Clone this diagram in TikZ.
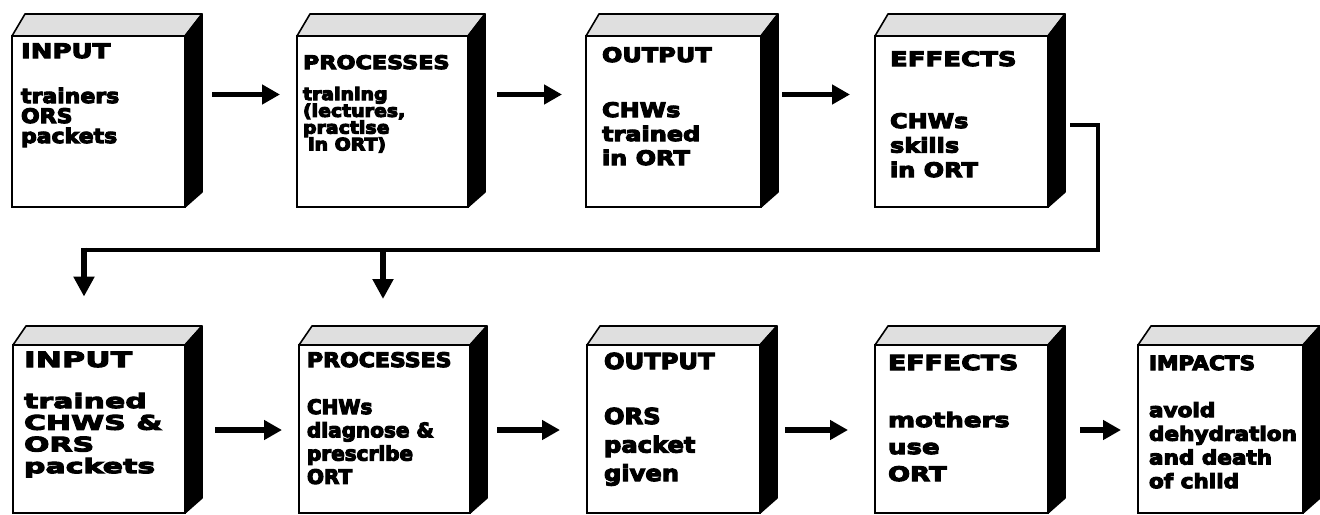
\documentclass[tikz,border=0pt]{standalone}
\usepackage{fontspec}
% one bold sans at several widths
\newfontfamily\fsA{DejaVu Sans}[UprightFont={* Bold}, FakeStretch=1.0]
\newfontfamily\fsB{DejaVu Sans}[UprightFont={* Bold}, FakeStretch=1.1]
\newfontfamily\fsC{DejaVu Sans}[UprightFont={* Bold}, FakeStretch=1.2]
\newfontfamily\fsD{DejaVu Sans}[UprightFont={* Bold}, FakeStretch=1.3]
\newfontfamily\fsE{DejaVu Sans}[UprightFont={* Bold}, FakeStretch=1.5]
% heavier letters: fill and outline the glyphs
\newcommand{\heavy}[1]{\special{pdf:literal direct 2 Tr 0.55 w}#1\special{pdf:literal direct 0 Tr}}
\usetikzlibrary{arrows.meta,calc}
\tikzset{
  front/.style={draw, line width=0.8pt, fill=white, rectangle, inner sep=0pt, outer sep=0pt},
  topface/.style={draw, line width=0.8pt, fill=gray!25, line join=round},
  sideface/.style={draw, line width=0.8pt, fill=black, line join=round},
  lbl/.style={inner sep=0pt, outer sep=0pt, anchor=base west},
  flow/.style={line width=2.8pt, -{Triangle[length=9pt,width=9.5pt]}},
  feed/.style={line width=2.4pt, line join=miter},
  drop/.style={line width=2.6pt, -{Triangle[length=10pt,width=10pt]}},
}
\newcommand{\sz}[1]{\fontsize{#1}{#1}\selectfont}
% a block: front face node, shaded top face, black side face
% args: name, left, top, right, bottom, depth of the top face
\newcommand{\tdbox}[6]{%
  \node[front, anchor=north west, minimum width={(#4-#2)*0.5pt}, minimum height={(#5-#3)*0.5pt}] (#1) at (#2,#3) {};
  \filldraw[topface] (#1.north west) -- ++(13,-#6) -- ($(#1.north east)+(17,-#6)$) -- (#1.north east) -- cycle;
  \filldraw[sideface] (#1.north east) -- ++(17,-#6) -- ($(#1.south east)+(17,-15)$) -- (#1.south east) -- cycle;
}
% a column of text lines: name, font, x, first baseline, line step, lines
\newcommand{\textlines}[6]{%
  \foreach \ln [count=\i] in {#6} {
    \node[lbl, font=#2] (#1-\i) at (#3, {#4+(\i-1)*#5}) {\heavy{\ln}};
  }%
}
\begin{document}
\begin{tikzpicture}[x=0.5pt,y=-0.5pt]
\useasboundingbox (0,0) rectangle (1320,514);

% ---------- first chain: training of the health workers ----------
\tdbox{in1}{12}{36}{185}{207}{22}
\tdbox{proc1}{297}{36}{468}{207}{22}
\tdbox{out1}{586}{36}{761}{207}{22}
\tdbox{eff1}{875}{36}{1048}{207}{22}

\textlines{in1h}{\fsD\sz{10}}{21}{58}{0}{INPUT}
\textlines{in1b}{\fsB\sz{10}}{21}{103}{20}{trainers,ORS,packets}

\textlines{proc1h}{\fsC\sz{9.3}}{303}{69}{0}{PROCESSES}
\textlines{proc1b}{\fsB\sz{8.6}}{303}{100}{16.8}{training,{(lectures,},practise,\hspace{0.3em}in ORT)}

\textlines{out1h}{\fsC\sz{10}}{602}{62}{0}{OUTPUT}
\textlines{out1b}{\fsC\sz{10}}{602}{117}{24}{CHWs,trained,in ORT}

\textlines{eff1h}{\fsD\sz{10}}{890}{66}{0}{EFFECTS}
\textlines{eff1b}{\fsC\sz{10}}{890}{128}{24.5}{CHWs,skills,in ORT}

\draw[flow] ($(in1.east)+(27,-27)$) -- ($(proc1.west)+(-17,-27)$);
\draw[flow] ($(proc1.east)+(29,-27)$) -- ($(out1.west)+(-24,-27)$);
\draw[flow] ($(out1.east)+(21,-27)$) -- ($(eff1.west)+(-25,-27)$);

% ---------- second chain: health workers treating children ----------
\tdbox{in2}{13}{345}{185}{513}{19}
\tdbox{proc2}{299}{345}{470}{513}{19}
\tdbox{out2}{587}{345}{760}{513}{19}
\tdbox{eff2}{875}{345}{1048}{513}{19}
\tdbox{imp2}{1138}{345}{1303}{513}{19}

\textlines{in2h}{\fsE\sz{10.5}}{24}{367}{0}{INPUT}
\textlines{in2b}{\fsE\sz{10}}{24}{408}{21.7}{trained,CHWS \&,ORS,packets}

\textlines{proc2h}{\fsB\sz{10}}{307}{367}{0}{PROCESSES}
\textlines{proc2b}{\fsA\sz{10}}{307}{414}{23.3}{CHWs,diagnose \&,prescribe,ORT}

\textlines{out2h}{\fsB\sz{11}}{604}{369}{0}{OUTPUT}
\textlines{out2b}{\fsB\sz{11}}{604}{424}{28.5}{ORS,packet,given}

\textlines{eff2h}{\fsD\sz{10.3}}{888}{370}{0}{EFFECTS}
\textlines{eff2b}{\fsD\sz{10}}{888}{427}{27}{mothers,use,ORT}

\textlines{imp2h}{\fsB\sz{9.8}}{1149}{370}{0}{IMPACTS}
\textlines{imp2b}{\fsB\sz{9.8}}{1149}{417}{23.7}{avoid,dehydration,and death,of child}

\draw[flow] ($(in2.east)+(30,1)$) -- ($(proc2.west)+(-17,1)$);
\draw[flow] ($(proc2.east)+(27,1)$) -- ($(out2.west)+(-27,1)$);
\draw[flow] ($(out2.east)+(25,1)$) -- ($(eff2.west)+(-27,1)$);
\draw[flow] ($(eff2.east)+(32,1)$) -- ($(imp2.west)+(-17,1)$);

% ---------- link from the first chain down to the second ----------
\coordinate (turn) at (1098,250);
\coordinate (dropA) at (84,250);
\coordinate (dropB) at (383,250);
\draw[feed] ($(eff1.east)+(22,3.5)$) -| (turn) -- ([xshift=-1.2pt]dropA);
\draw[drop] ([yshift=1.2pt]dropA) -- ++(0,49);
\draw[drop] (dropB) -- ++(0,49);
\end{tikzpicture}
\end{document}
